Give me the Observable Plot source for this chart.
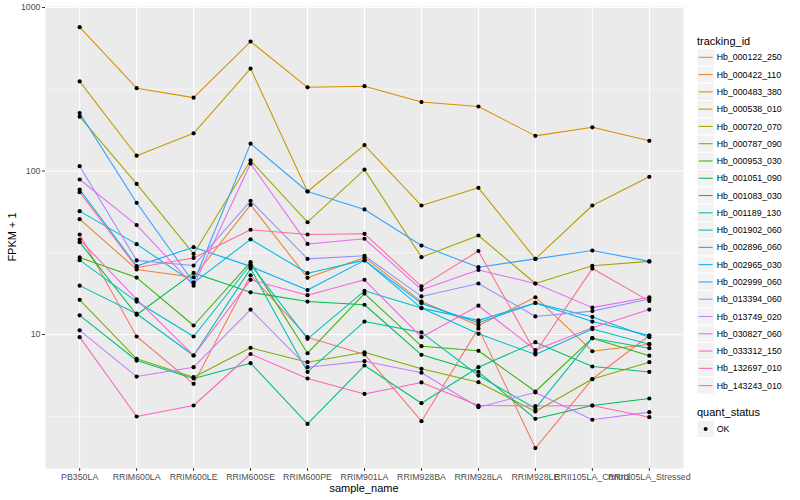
<!DOCTYPE html>
<html><head><meta charset="utf-8">
<script src="https://cdn.jsdelivr.net/npm/d3@7"></script>
<script src="https://cdn.jsdelivr.net/npm/@observablehq/plot@0.6"></script>
<style>body{margin:0;background:#fff;} #chart{width:800px;height:500px;}</style>
</head><body><div id="chart"></div>
<script>
const samples = ["PB350LA","RRIM600LA","RRIM600LE","RRIM600SE","RRIM600PE","RRIM901LA","RRIM928BA","RRIM928LA","RRIM928LE","RRII105LA_Control","RRII105LA_Stressed"];
const ids = ["Hb_000122_250","Hb_000422_110","Hb_000483_380","Hb_000538_010","Hb_000720_070","Hb_000787_090","Hb_000953_030","Hb_001051_090","Hb_001083_030","Hb_001189_130","Hb_001902_060","Hb_002896_060","Hb_002965_030","Hb_002999_060","Hb_013394_060","Hb_013749_020","Hb_030827_060","Hb_033312_150","Hb_132697_010","Hb_143243_010"];
const colors = ["#F8766D","#EA8331","#D89000","#C09B00","#A3A500","#7CAE00","#39B600","#00BB4E","#00BF7D","#00C1A3","#00BFC4","#00BAE0","#00B0F6","#35A2FF","#9590FF","#C77CFF","#E76BF3","#FA62DB","#FF62BC","#FF6C91"];

// FPKM + 1 per tracking_id, in sample order
const hb_000122_250 = [40.9, 9.72, 4.99, 23.0, 9.63, 7.55, 2.95, 10.9, 2.02, 5.34, 9.86];
const hb_000422_110 = [50.7, 25.0, 22.4, 62.1, 22.2, 29.6, 15.9, 11.35, 16.9, 7.90, 8.72];
const hb_000483_380 = [758, 321, 281, 619, 325, 330, 264, 248, 164, 185, 153];
const hb_000538_010 = [353, 124, 170, 423, 74.9, 144, 61.5, 78.9, 29.0, 61.5, 92.1];
const hb_000720_070 = [215, 83.3, 31.1, 116, 48.6, 102, 29.7, 40.3, 20.5, 26.3, 28.0];
const hb_000787_090 = [16.3, 7.10, 5.48, 8.29, 6.77, 7.79, 6.17, 5.11, 3.38, 5.34, 6.77];
const hb_000953_030 = [29.6, 22.3, 11.35, 27.7, 7.68, 17.8, 8.48, 7.95, 4.48, 9.49, 7.42];
const hb_001051_090 = [36.7, 13.2, 23.8, 18.1, 15.9, 15.2, 7.51, 5.91, 3.05, 3.68, 4.06];
const hb_001083_030 = [13.1, 6.93, 5.38, 6.68, 2.84, 6.46, 3.80, 6.31, 8.97, 6.37, 5.90];
const hb_001189_130 = [19.9, 13.4, 7.44, 25.3, 5.90, 12.0, 10.3, 5.61, 3.53, 9.49, 8.25];
const hb_001902_060 = [28.5, 15.9, 9.72, 26.8, 9.41, 18.5, 14.5, 10.1, 7.55, 10.8, 8.72];
const hb_002896_060 = [56.8, 35.7, 20.7, 38.2, 23.7, 28.5, 14.5, 12.2, 15.6, 12.8, 9.63];
const hb_002965_030 = [77.0, 26.2, 34.2, 26.1, 18.7, 28.4, 15.5, 11.8, 15.6, 12.0, 9.86];
const hb_002999_060 = [226, 63.9, 20.8, 147, 74.9, 58.2, 35.0, 25.8, 29.0, 32.6, 28.0];
const hb_013394_060 = [107, 28.4, 26.4, 65.7, 29.0, 30.3, 17.1, 20.5, 12.9, 13.9, 16.5];
const hb_013749_020 = [10.6, 5.53, 6.31, 14.2, 6.31, 6.87, 5.84, 3.59, 4.42, 3.01, 3.35];
const hb_030827_060 = [88.7, 46.7, 19.9, 111, 35.8, 38.5, 18.8, 24.8, 20.5, 14.6, 16.9];
const hb_033312_150 = [38.1, 16.4, 7.44, 21.6, 17.4, 21.6, 9.63, 15.0, 8.04, 11.0, 14.2];
const hb_132697_010 = [9.63, 3.15, 3.68, 7.60, 5.38, 4.33, 5.09, 3.68, 3.65, 3.68, 3.12];
const hb_143243_010 = [74.2, 25.7, 29.4, 43.7, 40.9, 41.3, 19.7, 32.4, 7.76, 25.3, 16.0];

const seriesValues = [hb_000122_250, hb_000422_110, hb_000483_380, hb_000538_010, hb_000720_070, hb_000787_090, hb_000953_030, hb_001051_090, hb_001083_030, hb_001189_130, hb_001902_060, hb_002896_060, hb_002965_030, hb_002999_060, hb_013394_060, hb_013749_020, hb_030827_060, hb_033312_150, hb_132697_010, hb_143243_010];

const majorY = [10, 100, 1000];
const minorY = [3.162, 31.62, 316.2];

const data = ids.flatMap((id, i) => samples.map((s, j) => ({id, sample: s, value: seriesValues[i][j], status: "OK"})));

const font = "'Liberation Sans', Arial, Helvetica, sans-serif";

const plot = Plot.plot({
  width: 800, height: 500,
  marginLeft: 45, marginRight: 117, marginTop: 6, marginBottom: 32,
  style: {fontFamily: font, fontSize: "8.8px", background: "white", color: "black"},
  x: {type: "point", domain: samples, padding: 0.6, round: false, label: null},
  y: {type: "log", domain: [1.515, 1014], label: null},
  color: {domain: ids, range: colors},
  marks: [
    Plot.frame({fill: "#EBEBEB", stroke: "none"}),
    Plot.ruleY(minorY, {stroke: "white", strokeWidth: 0.55}),
    Plot.ruleY(majorY, {stroke: "white", strokeWidth: 1.1}),
    Plot.ruleX(samples, {stroke: "white", strokeWidth: 1.1}),
    Plot.line(data, {x: "sample", y: "value", z: "id", stroke: "id", strokeWidth: 1.07}),
    Plot.dot(data, {x: "sample", y: "value", r: 2.1, fill: "black", stroke: "none"}),
    Plot.axisY({ticks: majorY, tickFormat: d => String(d), tickSize: 3, tickPadding: 2, stroke: "#333333", fill: "#4D4D4D", label: null}),
    Plot.axisX({tickSize: 3, tickPadding: 2, stroke: "#333333", fill: "#4D4D4D", label: null})
  ]
});
document.getElementById("chart").appendChild(plot);

const svg = d3.select(plot);
svg.append("text").attr("x", 364).attr("y", 492).attr("text-anchor", "middle")
  .attr("font-size", 11).attr("font-family", font).attr("fill", "black").text("sample_name");
svg.append("text").attr("transform", "translate(16,237) rotate(-90)").attr("text-anchor", "middle")
  .attr("font-size", 11).attr("font-family", font).attr("fill", "black").text("FPKM + 1");

const lg = svg.append("g").attr("font-family", font).attr("text-anchor", "start");
lg.append("text").attr("x", 697).attr("y", 44.5).attr("font-size", 11).attr("fill", "black").text("tracking_id");
const keyH = 17.28;
ids.forEach((id, i) => {
  const cy = 57.3 + i * keyH;
  lg.append("rect").attr("x", 697).attr("y", cy - keyH / 2).attr("width", keyH).attr("height", keyH)
    .attr("fill", "#F2F2F2").attr("stroke", "white").attr("stroke-width", 1);
  lg.append("line").attr("x1", 698.7).attr("x2", 712.6).attr("y1", cy).attr("y2", cy)
    .attr("stroke", colors[i]).attr("stroke-width", 1.07);
  lg.append("text").attr("x", 716.7).attr("y", cy + 3.1).attr("font-size", 8.8).attr("fill", "black").text(id);
});
lg.append("text").attr("x", 697).attr("y", 416).attr("font-size", 11).attr("fill", "black").text("quant_status");
lg.append("rect").attr("x", 697).attr("y", 429 - keyH / 2).attr("width", keyH).attr("height", keyH)
  .attr("fill", "#F2F2F2").attr("stroke", "white").attr("stroke-width", 1);
lg.append("circle").attr("cx", 697 + keyH / 2).attr("cy", 429).attr("r", 2).attr("fill", "black");
lg.append("text").attr("x", 716.7).attr("y", 432.1).attr("font-size", 8.8).attr("fill", "black").text("OK");
</script>
</body></html>
